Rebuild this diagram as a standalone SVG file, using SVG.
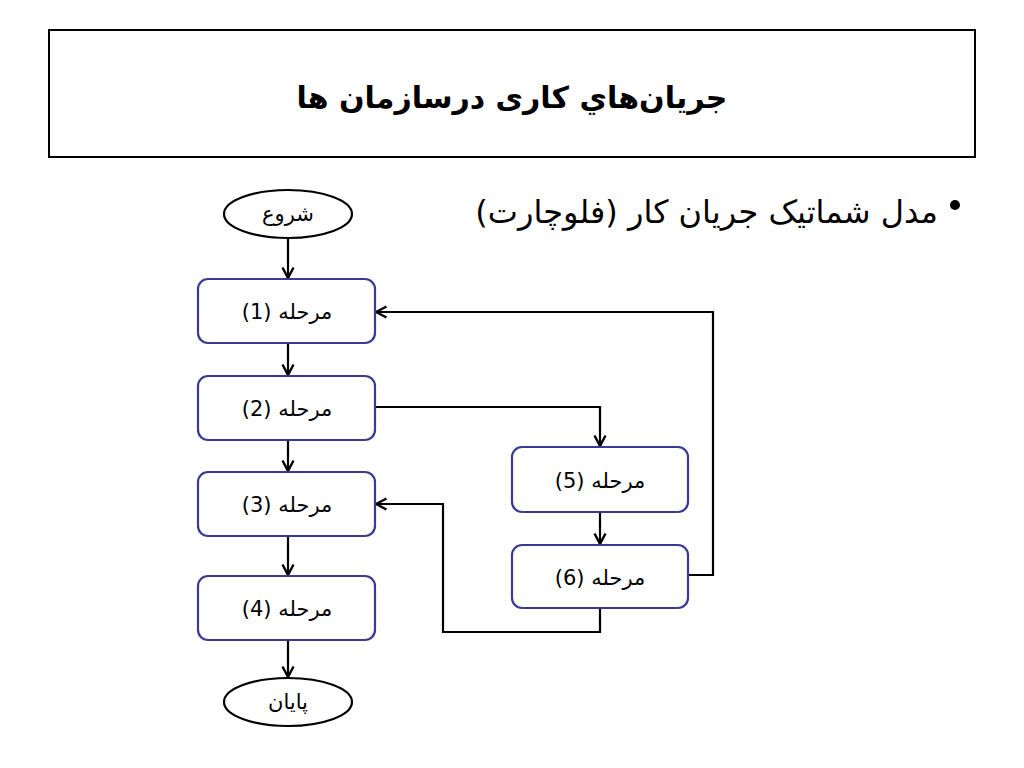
<svg xmlns="http://www.w3.org/2000/svg" width="1024" height="768" viewBox="0 0 1024 768">
<style>
.box{fill:#fff;stroke:#3a3a94;stroke-width:2.2}
.term{fill:#fff;stroke:#000;stroke-width:2.2}
.lbl{font-family:"DejaVu Sans","Liberation Sans",sans-serif;font-size:21px;fill:#000;text-anchor:middle;direction:rtl;unicode-bidi:embed}
.con{fill:none;stroke:#000;stroke-width:2.2}
</style>
<defs>
<marker id="ah" viewBox="0 0 14 14" refX="12.5" refY="7" markerWidth="14" markerHeight="14" markerUnits="userSpaceOnUse" orient="auto">
<path d="M2,1.5 L12.5,7 L2,12.5" fill="none" stroke="#000" stroke-width="2.4"/>
</marker>
</defs>
<rect width="1024" height="768" fill="#fff"/>
<g id="title">
<rect x="49" y="30" width="926" height="127" fill="#fff" stroke="#000" stroke-width="2"/>
<text x="512" y="108" font-family="DejaVu Sans,sans-serif" font-weight="bold" font-size="30" text-anchor="middle" direction="rtl" unicode-bidi="embed">جریان‌هاي کاری درسازمان ها</text>
</g>
<g id="bullet">
<circle cx="955" cy="205" r="5" fill="#000"/>
<text x="938" y="223" font-family="DejaVu Sans,sans-serif" font-size="32" direction="rtl" unicode-bidi="embed" text-anchor="start">مدل شماتیک جریان کار (فلوچارت)</text>
</g>
<g id="connectors">
<path class="con" d="M288,238 V278" marker-end="url(#ah)"/>
<path class="con" d="M288,343 V375" marker-end="url(#ah)"/>
<path class="con" d="M288,440 V471" marker-end="url(#ah)"/>
<path class="con" d="M288,536 V575" marker-end="url(#ah)"/>
<path class="con" d="M288,640 V677" marker-end="url(#ah)"/>
<path class="con" d="M375,407 H600 V446" marker-end="url(#ah)"/>
<path class="con" d="M600,512 V544" marker-end="url(#ah)"/>
<path class="con" d="M688,575 H713 V312 H376" marker-end="url(#ah)"/>
<path class="con" d="M600,608 V632 H443 V504 H376" marker-end="url(#ah)"/>
</g>
<g id="start">
<ellipse class="term" cx="288" cy="214" rx="64" ry="24"/>
<text class="lbl" x="288" y="221">شروع</text>
</g>
<g id="step1">
<rect class="box" x="198" y="279" width="177" height="64" rx="10"/>
<text class="lbl" x="287" y="319">مرحله (1)</text>
</g>
<g id="step2">
<rect class="box" x="198" y="376" width="177" height="64" rx="10"/>
<text class="lbl" x="287" y="416">مرحله (2)</text>
</g>
<g id="step3">
<rect class="box" x="198" y="472" width="177" height="64" rx="10"/>
<text class="lbl" x="287" y="512">مرحله (3)</text>
</g>
<g id="step4">
<rect class="box" x="198" y="576" width="177" height="64" rx="10"/>
<text class="lbl" x="287" y="616">مرحله (4)</text>
</g>
<g id="step5">
<rect class="box" x="512" y="447" width="176" height="65" rx="10"/>
<text class="lbl" x="600" y="488">مرحله (5)</text>
</g>
<g id="step6">
<rect class="box" x="512" y="545" width="176" height="63" rx="10"/>
<text class="lbl" x="600" y="585">مرحله (6)</text>
</g>
<g id="end">
<ellipse class="term" cx="288" cy="702" rx="64" ry="24"/>
<text class="lbl" x="288" y="709">پایان</text>
</g>
</svg>
